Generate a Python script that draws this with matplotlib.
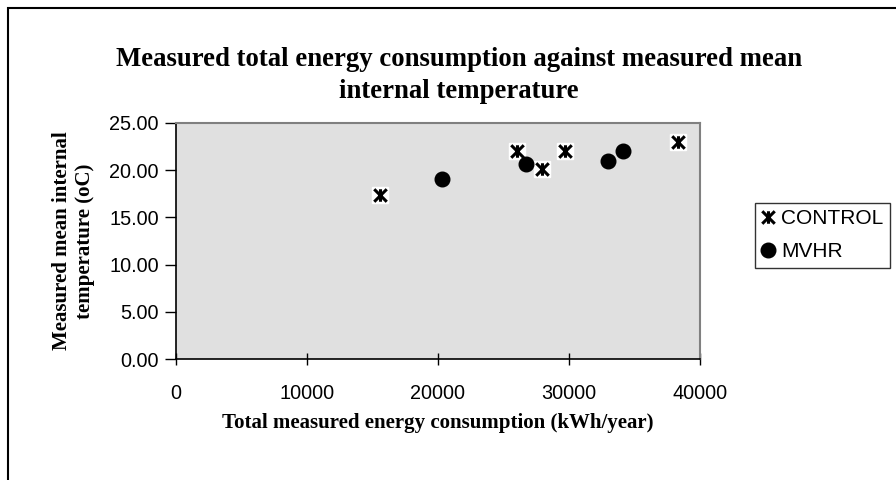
import matplotlib.pyplot as plt
from matplotlib.path import Path
from matplotlib.patches import Rectangle

# values
control_energy = [15600, 26080, 27940, 29720, 38370]
control_temp = [17.4, 22.0, 20.1, 22.0, 23.0]
mvhr_energy = [20350, 26720, 32980, 34120]
mvhr_temp = [19.05, 20.6, 20.95, 22.05]

x_ticks = [0, 10000, 20000, 30000, 40000]
y_ticks = [0, 5, 10, 15, 20, 25]

serif = ['Liberation Serif', 'DejaVu Serif']
sans = ['Liberation Sans', 'DejaVu Sans']

# Excel style "star" marker: an X with a vertical bar through it
star = Path([(-1, -1), (1, 1), (-1, 1), (1, -1), (0, -1), (0, 1)],
            [Path.MOVETO, Path.LINETO, Path.MOVETO, Path.LINETO, Path.MOVETO, Path.LINETO])

fig = plt.figure(figsize=(8.96, 4.80), dpi=100)
ax = fig.add_axes([0.196, 0.252, 0.585, 0.492])
ax.set_facecolor('#e0e0e0')

# white square behind each star, like the original
ax.plot(control_energy, control_temp, linestyle='none', marker='s', ms=11.5,
        mfc='white', mec='white', zorder=3)
ax.plot(control_energy, control_temp, linestyle='none', marker=star, ms=9,
        mec='black', mew=2.2, color='black', label='CONTROL', zorder=4)
ax.plot(mvhr_energy, mvhr_temp, linestyle='none', marker='o', ms=10.5,
        color='black', label='MVHR', zorder=4)

ax.set_xlim(0, 40000)
ax.set_ylim(0, 25)
ax.set_xticks(x_ticks)
ax.set_yticks(y_ticks)
ax.set_xticklabels([str(v) for v in x_ticks], family=sans, fontsize=14.3)
ax.set_yticklabels([f'{v:.2f}' for v in y_ticks], family=sans, fontsize=14.3)
ax.tick_params(axis='x', direction='inout', length=8, width=1, pad=14)
ax.tick_params(axis='y', direction='out', length=8, width=1, pad=4)

for side in ['left', 'bottom']:
    ax.spines[side].set_color('black')
    ax.spines[side].set_linewidth(1.2)
for side in ['top', 'right']:
    ax.spines[side].set_color('#808080')
    ax.spines[side].set_linewidth(1.5)

ax.set_xlabel('Total measured energy consumption (kWh/year)', family=serif,
              fontweight='bold', fontsize=15, labelpad=7)
ax.set_ylabel('Measured mean internal\ntemperature (oC)', family=serif,
              fontweight='bold', fontsize=15, labelpad=10, linespacing=1.25)

fig.text(0.512, 0.843, 'Measured total energy consumption against measured mean\ninternal temperature',
         ha='center', va='center', family=serif, fontweight='bold', fontsize=19.3,
         linespacing=1.4)

leg = ax.legend(loc='upper left', bbox_to_anchor=(755 / 896, 1 - 203 / 480),
                bbox_transform=fig.transFigure, prop={'family': sans, 'size': 15},
                frameon=True, fancybox=False, edgecolor='black', handlelength=0.6,
                handletextpad=0.35, borderpad=0.3, labelspacing=0.68, borderaxespad=0)
leg.get_frame().set_linewidth(1)

# outer chart border (right/bottom edges fall outside the image)
fig.add_artist(Rectangle((8 / 896, -0.2), 1.2, 1.2 - 8 / 480, transform=fig.transFigure,
                         fill=False, edgecolor='black', linewidth=1.5, clip_on=False))

plt.savefig('out.png', dpi=100)
plt.close()
